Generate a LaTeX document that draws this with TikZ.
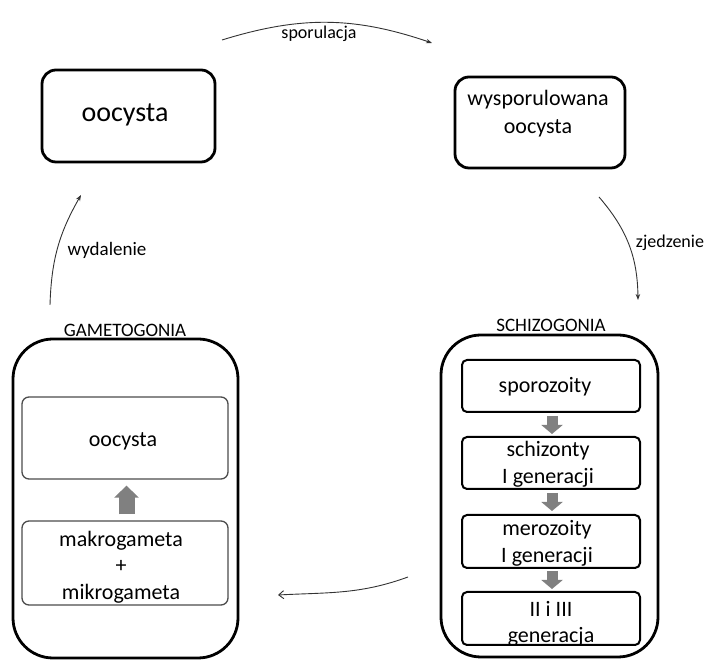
\documentclass[tikz,border=0pt]{standalone}
\usepackage{fontspec}
\setmainfont{Carlito}
\usetikzlibrary{arrows.meta}
\begin{document}
\begin{tikzpicture}[x=1pt,y=1pt,
  topbox/.style={draw=black,line width=2.8pt,rounded corners=14pt,inner sep=0pt},
  outerbox/.style={draw=black,line width=2.8pt,rounded corners=40pt,inner sep=0pt},
  gbox/.style={draw=black!70,line width=1.3pt,rounded corners=7pt,inner sep=0pt,minimum width=206pt},
  sbox/.style={draw=black,line width=2pt,rounded corners=5pt,inner sep=0pt,minimum width=178pt},
  txt/.style={inner sep=0pt,align=center,font=\fontsize{22}{26.5}\selectfont},
  lbl/.style={inner sep=0pt,font=\fontsize{18}{20}\selectfont},
  ttl/.style={inner sep=0pt,anchor=base,font=\fontsize{19}{21}\selectfont},
  flow/.style={draw=black!80,line width=0.9pt,-{Stealth[length=6pt,width=4.5pt]}},
  flowb/.style={draw=black!80,line width=0.9pt,-{Straight Barb[length=5pt,width=8pt]}},
  upblock/.style={draw=black!50,line width=16pt,-{Triangle[length=12pt,width=24pt]}},
  downblock/.style={draw=black!50,line width=11pt,-{Triangle[length=9pt,width=21pt]}}
]
\useasboundingbox (0,0) rectangle (707,660);

% top boxes
\node[topbox,minimum width=173pt,minimum height=92pt] (oo) at (128.5,544) {};
\node[inner sep=0pt,font=\fontsize{28}{30}\selectfont] (ootxt) at (125,545) {oocysta};
\node[topbox,minimum width=170pt,minimum height=91pt] (wo) at (540,537.5) {};
\node[inner sep=0pt,align=center,font=\fontsize{22}{28}\selectfont] (wotxt) at (538,546) {wysporulowana\\oocysta};

% gametogonia
\node[outerbox,minimum width=225pt,minimum height=319pt] (gam) at (125.5,161.5) {};
\node[ttl] (gamt) at (125,323) {GAMETOGONIA};
\node[gbox,minimum height=82pt] (g1) at (125,222) {};
\node[txt] (g1t) at (123,219) {oocysta};
\node[gbox,minimum height=84pt] (g2) at (125,97) {};
\node[txt] (g2t) at (121,93) {makrogameta\\+\\mikrogameta};
\draw[upblock,shorten <=6pt,shorten >=6pt] (g2.north -| 126.5,0) -- (g1.south -| 126.5,0);

% schizogonia
\node[outerbox,minimum width=217pt,minimum height=322pt] (sch) at (549.5,164) {};
\node[ttl] (scht) at (551,328) {SCHIZOGONIA};
\node[sbox,minimum height=52pt] (s1) at (551,274) {};
\node[txt] (s1t) at (545,273) {sporozoity};
\node[sbox,minimum height=52pt] (s2) at (551,197) {};
\node[txt] (s2t) at (548,195.5) {schizonty\\I generacji};
\node[sbox,minimum height=53pt] (s3) at (551,118.5) {};
\node[txt] (s3t) at (547,116.5) {merozoity\\I generacji};
\node[sbox,minimum height=53pt] (s4) at (551,41.5) {};
\begin{scope}
  \clip[rounded corners=5pt] (s4.south west) rectangle (s4.north east);
  \node[txt] (s4t) at (551,36) {II i III\\generacja};
\end{scope}
\draw[downblock,shorten <=3pt,shorten >=2pt] (s1.south -| 552,0) -- (s2.north -| 552,0);
\draw[downblock,shorten <=3pt,shorten >=3pt] (s2.south -| 552,0) -- (s3.north -| 552,0);
\draw[downblock,shorten <=2pt,shorten >=2pt] (s3.south -| 552,0) -- (s4.north -| 552,0);

% cycle connectors
\coordinate (a1) at (222,620);
\coordinate (a2) at (432,617);
\draw[flow] (a1) to[bend left=18] (a2);
\node[lbl] (l1) at (319,626) {sporulacja};

\coordinate (b1) at (599,463);
\coordinate (b2) at (638,360);
\draw[flow] (b1) to[bend left=20] (b2);
\node[lbl] (l2) at (670,417) {zjedzenie};

\coordinate (c1) at (408,83);
\coordinate (c2) at (278,65);
\draw[flowb] (c1) to[out=200,in=3] (c2);

\coordinate (d1) at (50,355);
\coordinate (d2) at (81,465);
\draw[flow] (d1) to[bend left=14] (d2);
\node[lbl,font=\fontsize{19}{21}\selectfont] (l3) at (107,410) {wydalenie};
\end{tikzpicture}
\end{document}
